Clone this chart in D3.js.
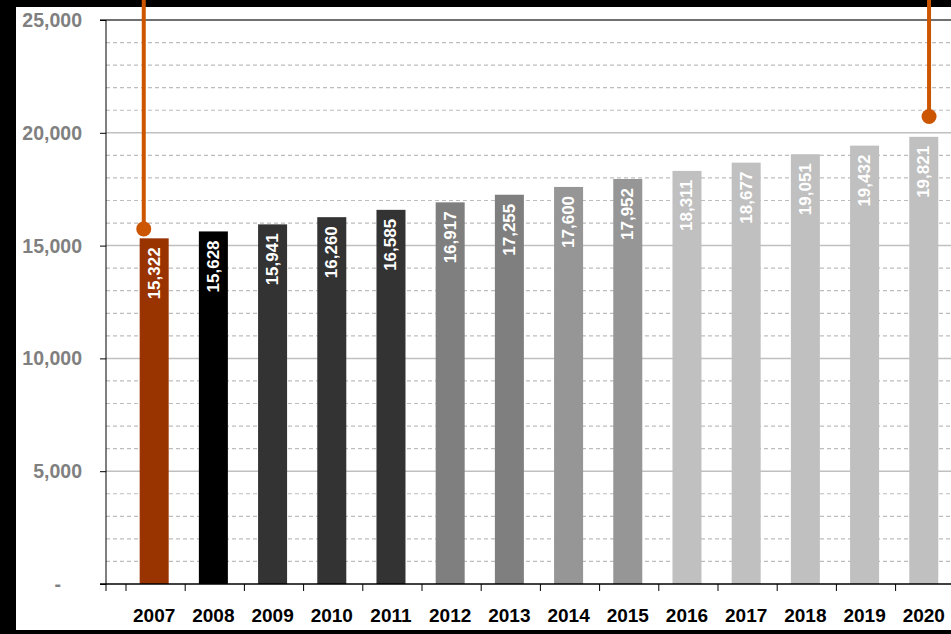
<!DOCTYPE html>
<html><head><meta charset="utf-8">
<script src="https://cdn.jsdelivr.net/npm/d3@7"></script>
<style>html,body{margin:0;padding:0;background:#000;overflow:hidden}svg{display:block}</style>
</head><body>
<svg id="c" width="951" height="634"></svg>
<script>
const years = ["2007","2008","2009","2010","2011","2012","2013","2014","2015","2016","2017","2018","2019","2020"];
const values = [15322,15628,15941,16260,16585,16917,17255,17600,17952,18311,18677,19051,19432,19821];
const barColors = ["#993300","#000000","#333333","#333333","#333333","#7f7f7f","#7f7f7f","#969696","#969696","#c0c0c0","#c0c0c0","#c0c0c0","#c0c0c0","#c0c0c0"];
const yTicks = [0,5000,10000,15000,20000,25000];
const yTickLabels = ["-","5,000","10,000","15,000","20,000","25,000"];
const minorTicks = d3.range(1000,25000,1000).filter(v=>v%5000!==0);
const annotations = [{year:"2007", value:15740, pos:0.30},{year:"2020", value:20720, pos:0.565}];

const svg = d3.select("#c");
svg.append("rect").attr("x",16).attr("y",7).attr("width",951-16).attr("height",630-7).attr("fill","#fff");

const y = d3.scaleLinear().domain([0,25000]).range([584,20]);
const x = d3.scaleBand().domain(years).range([126,126+14*59.2]).padding(0);
const bw = x.bandwidth();
const left = 106, right = 951;
const font = "Liberation Sans, Arial, sans-serif";

// minor dashed gridlines
svg.append("g").selectAll("line").data(minorTicks).join("line")
  .attr("x1",left).attr("x2",right).attr("y1",d=>y(d)).attr("y2",d=>y(d))
  .attr("stroke","#bdbdbd").attr("stroke-width",1.2).attr("stroke-dasharray","4,3");
// major gridlines
svg.append("g").selectAll("line").data(yTicks.filter(v=>v>0&&v<25000)).join("line")
  .attr("x1",left).attr("x2",right).attr("y1",d=>y(d)).attr("y2",d=>y(d))
  .attr("stroke","#c0c0c0").attr("stroke-width",1.5);
// top line
svg.append("line").attr("x1",100).attr("x2",right).attr("y1",y(25000)).attr("y2",y(25000))
  .attr("stroke","#404040").attr("stroke-width",1.5);

// bars
svg.append("g").selectAll("rect").data(values).join("rect")
  .attr("x",(d,i)=>x(years[i])+bw*0.231).attr("width",bw*0.49)
  .attr("y",d=>y(d)).attr("height",d=>y(0)-y(d))
  .attr("fill",(d,i)=>barColors[i]);

// bar labels
svg.append("g").selectAll("text").data(values).join("text")
  .attr("transform",(d,i)=>`translate(${x(years[i])+bw*0.231+bw*0.245},${y(d)+9}) rotate(-90)`)
  .attr("text-anchor","end").attr("dominant-baseline","central")
  .attr("font-family",font).attr("font-weight","bold").attr("font-size",17)
  .attr("fill","#fff").text(d=>d3.format(",")(d));

// y axis
const yAxis = d3.axisLeft(y).tickValues(yTicks).tickSize(6).tickFormat("");
const ya = svg.append("g").attr("transform",`translate(${left},0)`).call(yAxis);
ya.select(".domain").attr("stroke","#000").attr("d",`M0,${y(25000)}V${y(0)+7}`);
ya.selectAll(".tick line").attr("stroke","#000");
svg.append("g").selectAll("text").data(yTicks).join("text")
  .attr("x",(d,i)=>i===0?61:82).attr("y",d=>y(d)).attr("dominant-baseline","central")
  .attr("text-anchor","end").attr("fill","#808080")
  .attr("font-family",font).attr("font-weight","bold").attr("font-size",19.5)
  .text((d,i)=>yTickLabels[i]);

// x axis
const xa = svg.append("g").attr("transform",`translate(0,${y(0)})`);
xa.append("line").attr("x1",100).attr("x2",right).attr("stroke","#000").attr("stroke-width",1.5);
xa.selectAll("line.t").data(years).join("line").attr("class","t")
  .attr("x1",d=>x(d)).attr("x2",d=>x(d)).attr("y1",0).attr("y2",7).attr("stroke","#000");
xa.selectAll("text").data(years).join("text")
  .attr("x",d=>x(d)+bw*0.231+bw*0.245).attr("y",38).attr("text-anchor","middle")
  .attr("font-family",font).attr("font-weight","bold").attr("font-size",19)
  .attr("fill","#000").text(d=>d);

// annotations
const ag = svg.append("g");
annotations.forEach(a=>{
  const ax = x(a.year)+bw*a.pos, ay = y(a.value);
  ag.append("line").attr("x1",ax).attr("x2",ax).attr("y1",0).attr("y2",ay).attr("stroke","#cc5500").attr("stroke-width",4);
  ag.append("circle").attr("cx",ax).attr("cy",ay).attr("r",7.5).attr("fill","#cc5500");
});
</script>
</body></html>
